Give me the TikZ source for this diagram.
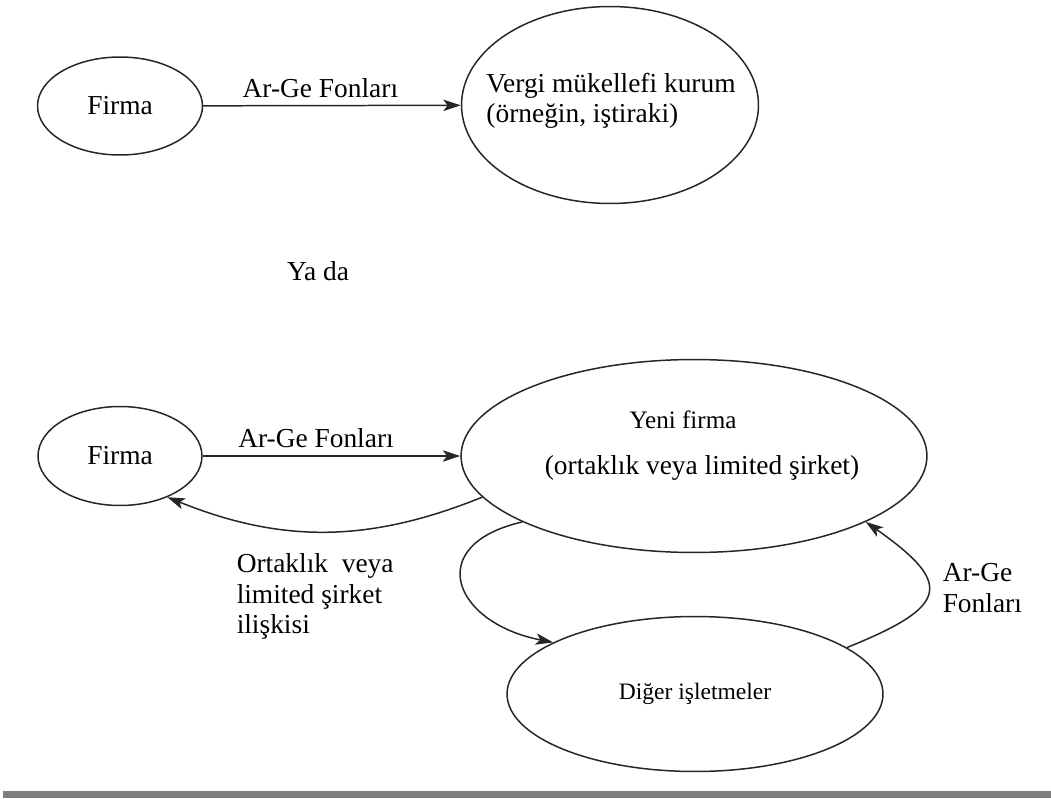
\documentclass[tikz,border=0pt]{standalone}
\usepackage{fontspec}
\setmainfont{Liberation Serif}
\usepackage{tikz}
\usetikzlibrary{positioning, arrows.meta, shapes.geometric}

\newcommand{\txtbig}{\fontsize{15.6}{17.4}\selectfont}
\newcommand{\txtsmall}{\fontsize{13.4}{16}\selectfont}

\begin{document}
\begin{tikzpicture}[
    x=0.02cm, y=-0.02cm,
    every node/.style={font=\txtbig, text=black},
    every path/.style={line width=0.85pt, black!85},
    oval/.style={draw, ellipse, inner sep=0pt},
    lbl/.style={inner sep=0pt, align=left},
    >={Stealth[length=10pt, width=6.5pt, inset=2.5pt]} % ok punta
]
\useasboundingbox (0,0) rectangle (1051,798);

% Ust kisim
\node[oval, minimum width=3.3cm, minimum height=1.96cm] (firmaA) at (120,106) {Firma};
\node[oval, minimum width=5.94cm, minimum height=3.94cm] (vergi) at (610,105) {};
\node[lbl] (vergiTxt) at (611,101) {Vergi mükellefi kurum\\(örneğin, iştiraki)};
\draw[->] (firmaA) -- node[lbl, above=4pt, pos=0.455] {Ar-Ge Fonları} (vergi);

\node (yada) at (318,271) {Ya da};

% Alt kisim
\node[oval, minimum width=3.28cm, minimum height=1.98cm] (firmaB) at (120,456) {Firma};
\node[oval, minimum width=9.32cm, minimum height=3.86cm] (yeni) at (694,456) {};
\node[font=\fontsize{14.3}{16}\selectfont] (yeniA) at (683,420) {Yeni firma};
\node (yeniB) at (702,468) {(ortaklık veya limited şirket)};
\node[oval, minimum width=7.52cm, minimum height=3.1cm, font=\txtsmall] (diger) at (695,694) {Diğer işletmeler};

\draw[->] (firmaB) -- node[lbl, above=4pt, pos=0.44] {Ar-Ge Fonları} (yeni);
\draw[->] (yeni.191) to[bend left=22] (firmaB.-41);
\draw[->] (yeni.201) to[out=193, in=169, looseness=2.1] (diger.160);
\draw[->] (diger.17) to[out=22, in=-35, looseness=2.2] (yeni.339);

\node[lbl, anchor=north west] (ilis) at (236,553) {Ortaklık\ \ veya\\limited şirket\\ilişkisi};
\node[lbl, anchor=north west] (fonB) at (942,563) {Ar-Ge\\Fonları};

% Alt cizgi
\fill[black!50] (3,791) rectangle (1051,798);

\end{tikzpicture}
\end{document}
